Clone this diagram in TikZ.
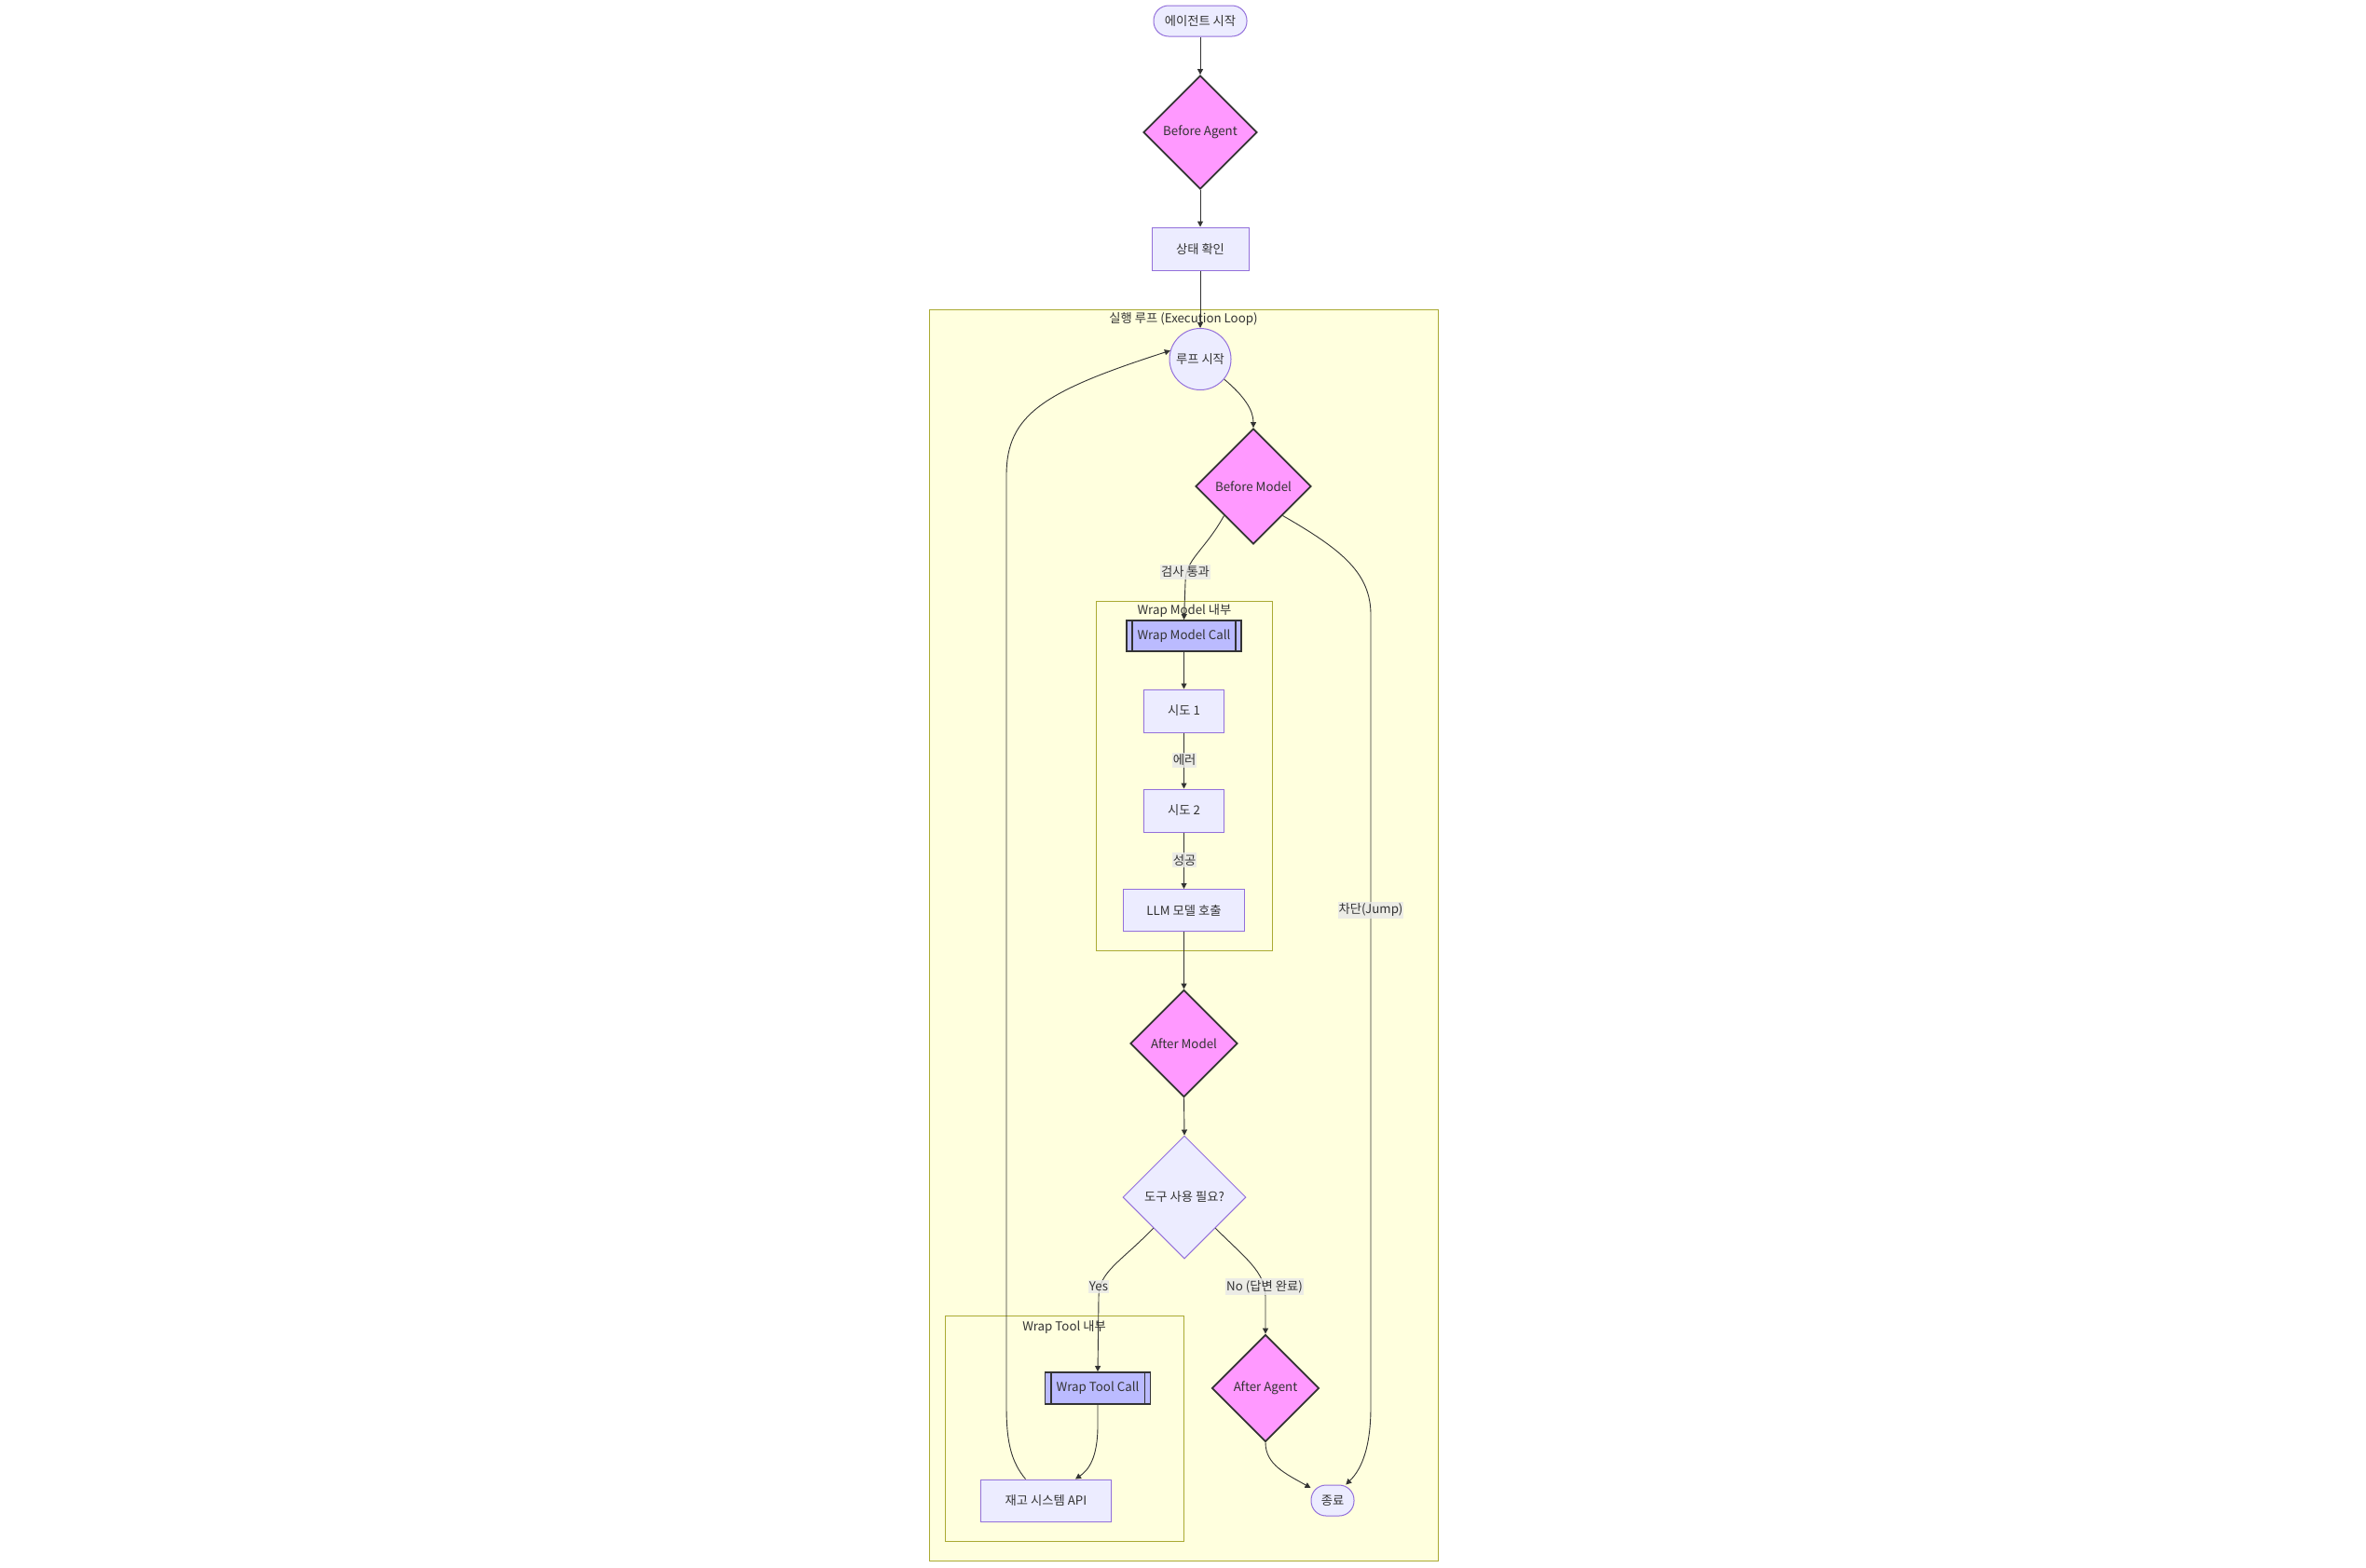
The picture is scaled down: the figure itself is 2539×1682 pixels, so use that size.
\documentclass[tikz,border=0pt]{standalone}
\usepackage{fontspec}
\setmainfont{Noto Sans CJK KR}
\usetikzlibrary{shapes.geometric,arrows.meta}
\definecolor{nfill}{HTML}{ECECFF}
\definecolor{nstroke}{HTML}{9370DB}
\definecolor{pinkf}{HTML}{FF99FF}
\definecolor{bluef}{HTML}{BBBBFF}
\definecolor{dk}{HTML}{333333}
\definecolor{txt}{HTML}{333333}
\definecolor{cfill}{HTML}{FFFFDE}
\definecolor{cstroke}{HTML}{AAAA33}
\definecolor{lbg}{HTML}{E8E8E8}
\begin{document}
\begin{tikzpicture}[x=1pt,y=-1pt,
  font=\fontsize{13.3}{16}\selectfont,
  base/.style={inner sep=0pt, text=txt},
  proc/.style={base, rectangle, draw=nstroke, fill=nfill, line width=1pt, minimum height=46},
  term/.style={base, rectangle, rounded corners=16pt, draw=nstroke, fill=nfill, line width=1pt, minimum height=33},
  hook/.style={base, diamond, aspect=1, draw=dk, fill=pinkf, line width=1.8pt},
  subr/.style={base, rectangle, draw=dk, fill=bluef, line width=1.8pt, minimum height=33},
  clus/.style={draw=cstroke, fill=cfill, line width=1pt},
  ctitle/.style={base, anchor=center},
  arr/.style={draw=dk, line width=0.9pt, -{Triangle[length=6pt,width=6pt]}},
  elabel/.style={fill=lbg, fill opacity=0.8, text opacity=1, text=txt, inner xsep=1pt, inner ysep=2pt}
]
\useasboundingbox (0,0) rectangle (2539,1682);
\fill[white] (0,0) rectangle (2539,1682);

% clusters
\draw[clus] (997,332) rectangle (1543,1675);
\node[ctitle] (tout) at (1270,343) {실행 루프 (Execution Loop)};
\draw[clus] (1176,645) rectangle (1365,1020);
\node[ctitle] (twm) at (1271,656) {Wrap Model 내부};
\draw[clus] (1014,1412) rectangle (1270,1654);
\node[ctitle] (twt) at (1142,1424) {Wrap Tool 내부};

% nodes
\node[term, minimum width=100] (start) at (1288,22.5) {에이전트 시작};
\node[hook, minimum size=122] (ba) at (1288,142) {Before Agent};
\node[proc, minimum width=104] (check) at (1288,267) {상태 확인};
\node[base, circle, draw=nstroke, fill=nfill, line width=1pt, minimum size=66] (loop) at (1288,385.5) {루프 시작};
\node[hook, minimum size=124] (bm) at (1345,522) {Before Model};
\node[subr, minimum width=123] (wmc) at (1270.5,682.5) {Wrap Model Call};
\node[proc, minimum width=86] (t1) at (1270.5,763) {시도 1};
\node[proc, minimum width=86] (t2) at (1270.5,870) {시도 2};
\node[proc, minimum width=130, minimum height=45] (llm) at (1270.5,977) {LLM 모델 호출};
\node[hook, minimum size=115] (am) at (1270.5,1120) {After Model};
\node[base, diamond, aspect=1, draw=nstroke, fill=nfill, line width=1pt, minimum size=132] (q) at (1271,1285) {도구 사용 필요?};
\node[subr, minimum width=113, minimum height=34] (wtc) at (1178,1490) {Wrap Tool Call};
\node[proc, minimum width=140, minimum height=45] (api) at (1122.5,1610.5) {재고 시스템 API};
\node[hook, minimum size=115] (aa) at (1358,1490) {After Agent};
\node[term, minimum width=46] (end) at (1430,1610.5) {종료};

% subroutine bars
\draw[dk, line width=1.8pt] ([xshift=7]wmc.north west) -- ([xshift=7]wmc.south west);
\draw[dk, line width=1.8pt] ([xshift=-7]wmc.north east) -- ([xshift=-7]wmc.south east);
\draw[dk, line width=1.8pt] ([xshift=7]wtc.north west) -- ([xshift=7]wtc.south west);
\draw[dk, line width=1.8pt] ([xshift=-7]wtc.north east) -- ([xshift=-7]wtc.south east);

% edges
\draw[arr] (start.south) -- (ba.north);
\draw[arr] (ba.south) -- (check.north);
\draw[arr] (check.south) -- (loop.north);
\draw[arr] (loop.-40) .. controls (1335,425) and (1345,440) .. (bm.north);
\draw[arr] (bm.south west) .. controls (1292,592) and (1272,600) .. (1272,625) -- (wmc.north);
\draw[arr] (bm.south east) .. controls (1440,590) and (1471,615) .. (1471,660) -- (1471,1510) .. controls (1471,1560) and (1458,1580) .. (end.50);
\draw[arr] (wmc.south) -- (t1.north);
\draw[arr] (t1.south) -- (t2.north);
\draw[arr] (t2.south) -- (llm.north);
\draw[arr] (llm.south) -- (am.north);
\draw[arr] (am.south) -- (q.north);
\draw[arr] (q.south west) .. controls (1202,1355) and (1179,1365) .. (1179,1392) -- (wtc.north);
\draw[arr] (q.south east) .. controls (1336,1350) and (1358,1365) .. (1358,1392) -- (aa.north);
\draw[arr] (wtc.south) -- (1178,1530) .. controls (1178,1565) and (1168,1578) .. ([xshift=31.5]api.north);
\draw[arr] ([xshift=-22]api.north) .. controls (1086,1570) and (1080,1550) .. (1080,1510) -- (1080,510) .. controls (1080,445) and (1120,420) .. (loop.164);
\draw[arr] (aa.south) .. controls (1358,1572) and (1380,1582) .. (end.150);

% edge labels
\node[elabel] (l1) at (1272,614) {검사 통과};
\node[elabel] (l2) at (1271,816) {에러};
\node[elabel] (l3) at (1271,923) {성공};
\node[elabel] (l4) at (1471,977) {차단(Jump)};
\node[elabel] (l5) at (1179,1381) {Yes};
\node[elabel] (l6) at (1357,1381) {No (답변 완료)};
\end{tikzpicture}
\end{document}
